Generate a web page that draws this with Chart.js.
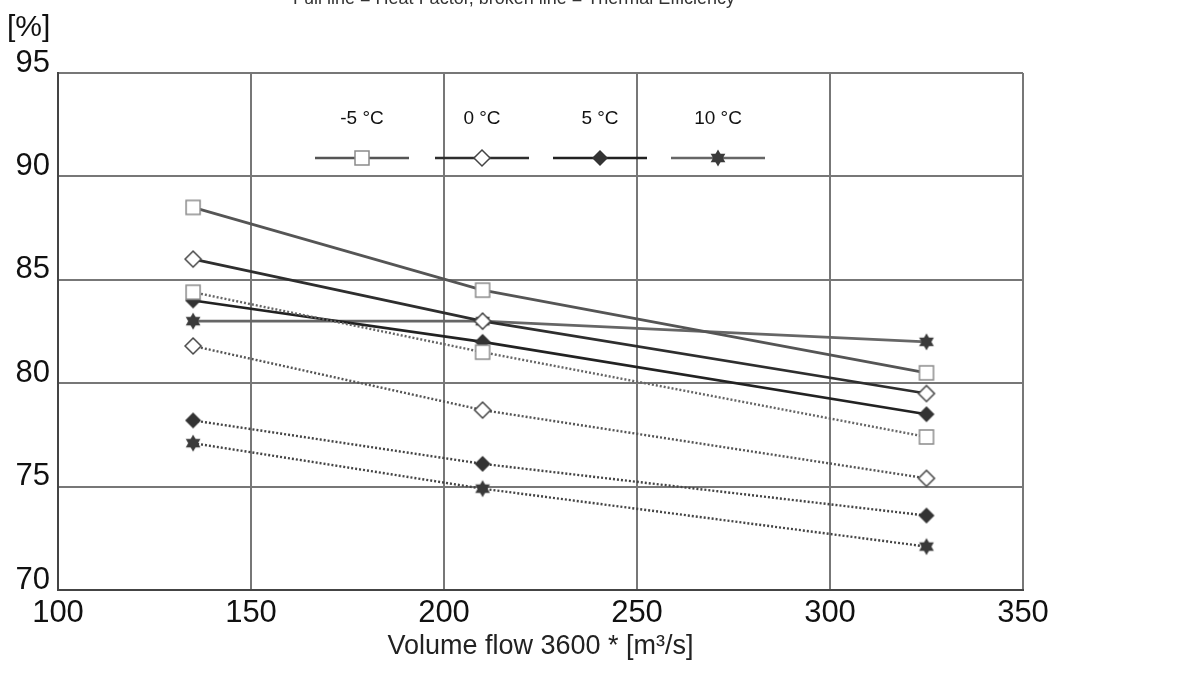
<!DOCTYPE html>
<html>
<head>
<meta charset="utf-8">
<script src="https://cdn.jsdelivr.net/npm/chart.js@4.4.1/dist/chart.umd.min.js"></script>
<style>
html,body{margin:0;padding:0;background:#fff;}
#wrap{width:1184px;height:674px;position:relative;}
</style>
</head>
<body>
<div id="wrap"><canvas id="c" width="1184" height="674"></canvas></div>
<script>
// ---- data ----
const volumeFlow = [135, 210, 325];
const tempLabels = ['-5 °C', '0 °C', '5 °C', '10 °C'];
const heatFactorM5 = [88.5, 84.5, 80.5];
const heatFactor0 = [86.0, 83.0, 79.5];
const heatFactor5 = [84.0, 82.0, 78.5];
const heatFactor10 = [83.0, 83.0, 82.0];
const efficiencyM5 = [84.4, 81.5, 77.4];
const efficiency0 = [81.8, 78.7, 75.4];
const efficiency5 = [78.2, 76.1, 73.6];
const efficiency10 = [77.1, 74.9, 72.1];
const xTicks = [100, 150, 200, 250, 300, 350];
const yTicks = [70, 75, 80, 85, 90, 95];

const titleText = 'Full line = Heat Factor, broken line = Thermal Efficiency';
const yUnit = '[%]';
const xTitle = 'Volume flow 3600 * [m³/s]';

// ---- marker images ----
function makeMarker(kind) {
  const s = 22, c = document.createElement('canvas');
  c.width = s; c.height = s;
  const g = c.getContext('2d');
  const m = s / 2;
  g.lineWidth = 1.5;
  if (kind === 'square') {
    g.fillStyle = '#fff'; g.strokeStyle = '#8a8a8a';
    g.fillRect(m - 7, m - 7, 14, 14);
    g.strokeRect(m - 7, m - 7, 14, 14);
  } else if (kind === 'diamondOpen' || kind === 'diamondFilled') {
    g.beginPath();
    g.moveTo(m, m - 8); g.lineTo(m + 8, m); g.lineTo(m, m + 8); g.lineTo(m - 8, m); g.closePath();
    if (kind === 'diamondOpen') { g.fillStyle = '#fff'; g.strokeStyle = '#444'; g.fill(); g.stroke(); }
    else { g.fillStyle = '#333'; g.fill(); }
  } else if (kind === 'star') {
    g.fillStyle = '#3a3a3a';
    const r = 8.5;
    for (let k = 0; k < 2; k++) {
      g.beginPath();
      for (let i = 0; i < 3; i++) {
        const a = -Math.PI / 2 + k * Math.PI + i * 2 * Math.PI / 3;
        const px = m + r * Math.cos(a), py = m + r * Math.sin(a);
        if (i === 0) g.moveTo(px, py); else g.lineTo(px, py);
      }
      g.closePath(); g.fill();
    }
  }
  return c;
}
const markers = [makeMarker('square'), makeMarker('diamondOpen'), makeMarker('diamondFilled'), makeMarker('star')];
const lineColors = ['#555', '#2e2e2e', '#222', '#666'];
const dotColors = ['#666', '#555', '#444', '#444'];

function pts(ys) { return volumeFlow.map((x, i) => ({ x: x, y: ys[i] })); }

const full = [heatFactorM5, heatFactor0, heatFactor5, heatFactor10];
const broken = [efficiencyM5, efficiency0, efficiency5, efficiency10];

const datasets = [];
broken.forEach((d, i) => datasets.push({
  label: tempLabels[i] + ' eff', data: pts(d), showLine: true,
  borderColor: dotColors[i], borderWidth: 2.4, borderDash: [2, 2],
  pointStyle: markers[i], pointRadius: 8
}));
full.forEach((d, i) => datasets.push({
  label: tempLabels[i], data: pts(d), showLine: true,
  borderColor: lineColors[i], borderWidth: 2.7,
  pointStyle: markers[i], pointRadius: 8
}));

const FONT = '"Liberation Sans", Arial, sans-serif';

const decorations = {
  id: 'decorations',
  afterDraw(chart) {
    const ctx = chart.ctx;
    ctx.save();
    // title (cut at the top edge)
    ctx.fillStyle = '#333';
    ctx.font = '18px ' + FONT;
    ctx.textAlign = 'center';
    ctx.textBaseline = 'alphabetic';
    ctx.fillText(titleText, 514, 4);
    // unit
    ctx.fillStyle = '#111';
    ctx.font = '30px ' + FONT;
    ctx.textAlign = 'left';
    ctx.textBaseline = 'middle';
    ctx.fillText(yUnit, 7, 28);
    // legend
    const cx = [362, 482, 600, 718];
    ctx.font = '19px ' + FONT;
    ctx.textAlign = 'center';
    for (let i = 0; i < 4; i++) {
      ctx.fillStyle = '#111';
      ctx.fillText(tempLabels[i], cx[i], 119);
      ctx.strokeStyle = lineColors[i];
      ctx.lineWidth = 2.6;
      ctx.beginPath();
      ctx.moveTo(cx[i] - 47, 158); ctx.lineTo(cx[i] + 47, 158);
      ctx.stroke();
      ctx.drawImage(markers[i], cx[i] - 11, 158 - 11);
    }
    ctx.restore();
  }
};

new Chart(document.getElementById('c'), {
  type: 'scatter',
  data: { datasets },
  plugins: [decorations],
  options: {
    responsive: false,
    animation: false,
    layout: { padding: { left: 0, right: 161, top: 73, bottom: 0 } },
    plugins: { legend: { display: false }, tooltip: { enabled: false } },
    scales: {
      x: {
        type: 'linear', min: 100, max: 350,
        afterBuildTicks: s => { s.ticks = xTicks.map(v => ({ value: v })); },
        afterFit: s => { s.height = 84; },
        grid: { color: '#777', lineWidth: 2, drawTicks: false },
        border: { color: '#444', width: 2 },
        ticks: { padding: 5, color: '#111', font: { family: FONT, size: 31 } },
        title: { display: true, text: xTitle, color: '#222', font: { family: FONT, size: 27 }, padding: { top: 0, bottom: 11 } }
      },
      y: {
        type: 'linear', min: 70, max: 95,
        afterBuildTicks: s => { s.ticks = yTicks.map(v => ({ value: v })); },
        afterFit: s => { s.width = 58; },
        grid: { color: '#777', lineWidth: 2, drawTicks: false },
        border: { color: '#444', width: 2 },
        ticks: { padding: 8, labelOffset: -10, color: '#111', font: { family: FONT, size: 31 } }
      }
    }
  }
});
</script>
</body>
</html>
